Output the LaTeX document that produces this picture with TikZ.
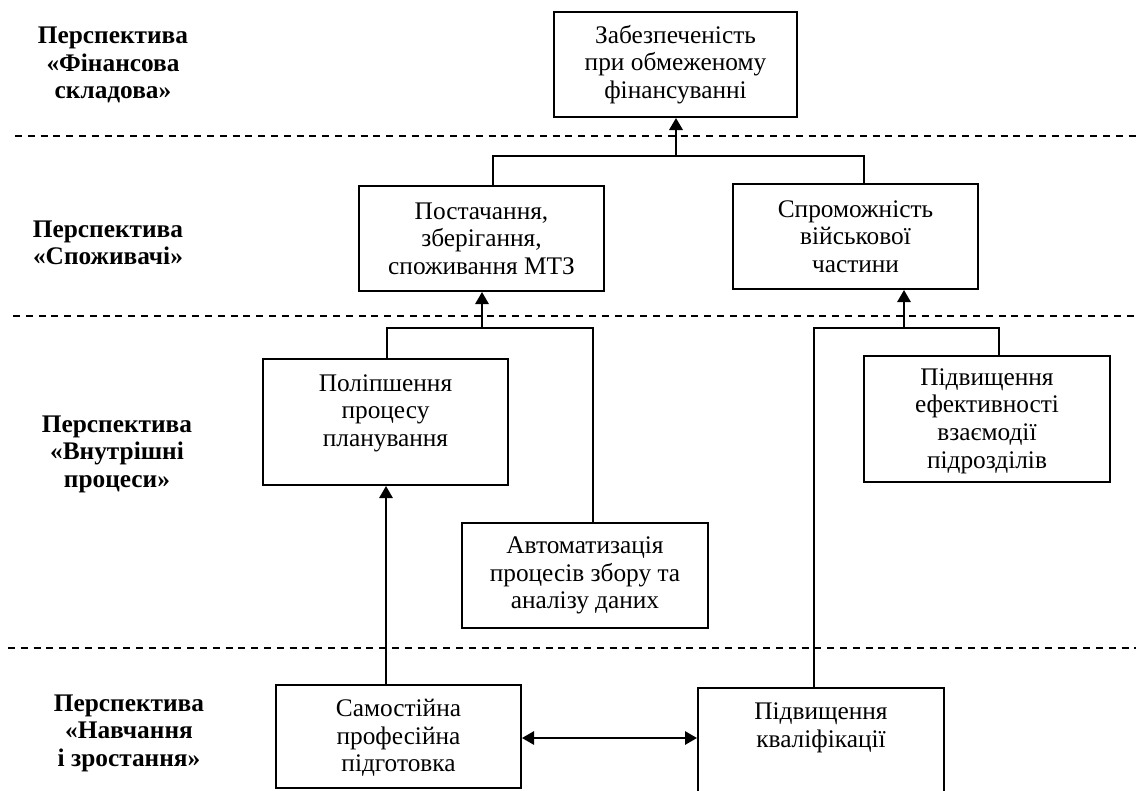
\documentclass[tikz,border=0pt]{standalone}
\usepackage{fontspec}
\setmainfont{Liberation Serif}
\usetikzlibrary{arrows.meta}
\tikzset{
  txt/.style={font=\fontsize{19pt}{20.7pt}\selectfont},
  box/.style={draw, line width=1.5pt, inner sep=2pt, align=center, txt},
  boxtext/.style={inner sep=0pt, align=center, txt},
  persp/.style={inner sep=0pt, align=center, font=\fontsize{19pt}{20.7pt}\selectfont\bfseries},
  sep/.style={dash pattern=on 5.2pt off 4.4pt, line width=1pt},
  conn/.style={line width=1.1pt},
  arr/.style={line width=1.4pt, -{Triangle[length=9pt,width=10pt]}},
  darr/.style={line width=1.4pt, {Triangle[length=9pt,width=10pt]}-{Triangle[length=9pt,width=10pt]}}
}
\begin{document}
\begin{tikzpicture}[x=0.75pt,y=-0.75pt]
\useasboundingbox (0,0) rectangle (1136,790);
\clip (0,0) rectangle (1136,790);
\fill[white] (0,0) rectangle (1136,790);

% perspective labels
\node[persp] (l1) at (113,65) {Перспектива\\«Фінансова\\складова»};
\node[persp] (l2) at (108,243) {Перспектива\\«Споживачі»};
\node[persp] (l3) at (117,454) {Перспектива\\«Внутрішні\\процеси»};
\node[persp] (l4) at (129,733) {Перспектива\\«Навчання\\і зростання»};

% separators
\coordinate (s1a) at (15,136);  \coordinate (s1b) at (1136,136);
\coordinate (s2a) at (13,316);  \coordinate (s2b) at (1136,316);
\coordinate (s3a) at (8,648);   \coordinate (s3b) at (1136,648);
\draw[sep] (s1a) -- (s1b);
\draw[sep] (s2a) -- (s2b);
\draw[sep] (s3a) -- (s3b);

% boxes
\node[box, minimum width=243*0.75pt, minimum height=105*0.75pt] (T) at (675.5,64.5)
  {Забезпеченість\\при обмеженому\\фінансуванні};
\node[box, minimum width=245*0.75pt, minimum height=105*0.75pt] (P1) at (481.5,238.5)
  {Постачання,\\зберігання,\\споживання МТЗ};
\node[box, minimum width=245*0.75pt, minimum height=105*0.75pt] (P2) at (855.5,236.5)
  {Спроможність\\військової\\частини};
\node[box, minimum width=245*0.75pt, minimum height=126*0.75pt] (I1) at (385.5,422) {};
\node[boxtext] (I1t) at (385.5,413) {Поліпшення\\процесу\\планування};
\node[box, minimum width=246*0.75pt, minimum height=105*0.75pt] (I2) at (585,575.5)
  {Автоматизація\\процесів збору та\\аналізу даних};
\node[box, minimum width=246*0.75pt, minimum height=126*0.75pt] (I3) at (987,419) {};
\node[boxtext] (I3t) at (987,421) {Підвищення\\ефективності\\взаємодії\\підрозділів};
\node[box, minimum width=245*0.75pt, minimum height=103*0.75pt] (L1) at (398.5,736.5) {};
\node[boxtext] (L1t) at (398.5,738) {Самостійна\\професійна\\підготовка};
\node[box, minimum width=246*0.75pt, minimum height=130*0.75pt] (L2) at (821,753) {};
\node[boxtext] (L2t) at (821,728) {Підвищення\\кваліфікації};

% level 2 -> top
\coordinate (j1) at (676,156);
\coordinate (j1l) at (493,156);
\coordinate (j1r) at (864,156);
\draw[conn] (j1l |- P1.north) -- (j1l) -- (j1r) -- (j1r |- P2.north);
\draw[arr, line width=1.8pt] (j1) -- (j1 |- T.south);

% level 3 -> P1
\coordinate (j2) at (482,328);
\coordinate (j2l) at (387,328);
\coordinate (j2r) at (593,328);
\draw[conn] (j2l |- I1.north) -- (j2l) -- (j2r) -- (j2r |- I2.north);
\draw[arr] (j2) -- (j2 |- P1.south);

% level 3 -> P2
\coordinate (j3) at (904,328);
\coordinate (j3l) at (814,328);
\coordinate (j3r) at (999,328);
\draw[conn] (j3l |- L2.north) -- (j3l) -- (j3r) -- (j3r |- I3.north);
\draw[arr] (j3) -- (j3 |- P2.south);

% learning
\coordinate (j4) at (386,700);
\draw[arr] (j4 |- L1.north) -- (j4 |- I1.south);
\coordinate (j5) at (600,738);
\draw[darr] (j5 -| L1.east) -- (j5 -| L2.west);
\end{tikzpicture}
\end{document}
